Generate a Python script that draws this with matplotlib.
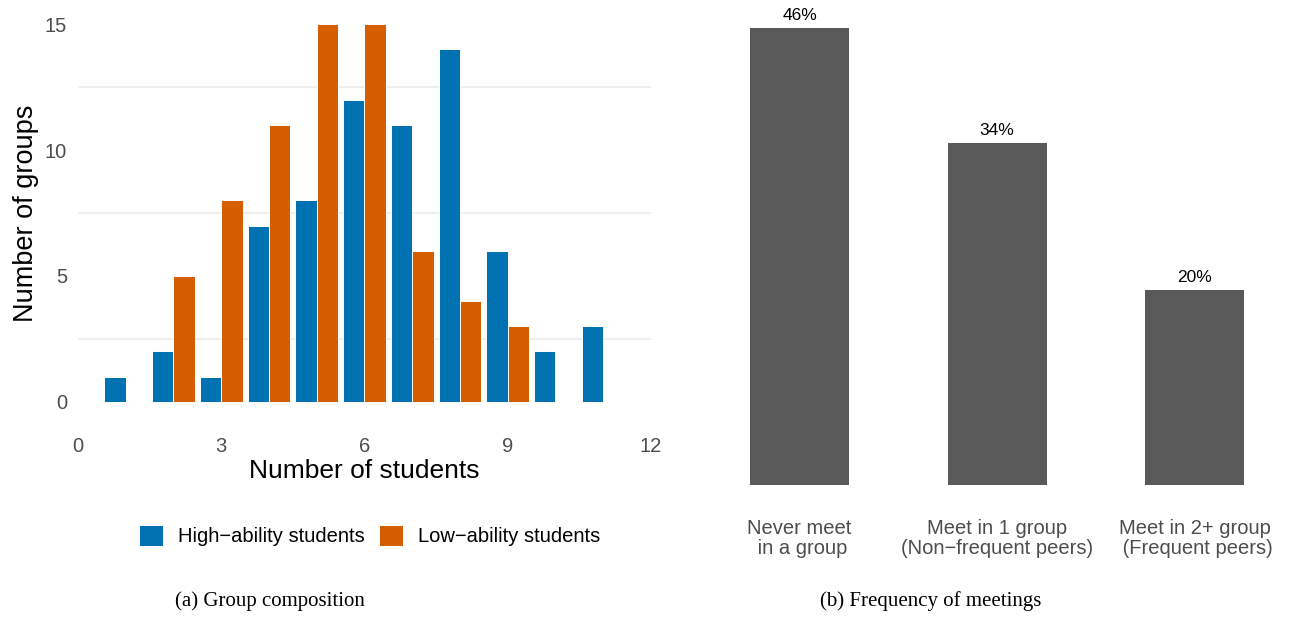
import matplotlib
matplotlib.use("Agg")
import matplotlib.pyplot as plt
from matplotlib.patches import Patch
import numpy as np

# ---- data ----
students = [1, 2, 3, 4, 5, 6, 7, 8, 9, 10, 11]
high_ability = [1, 2, 1, 7, 8, 12, 11, 14, 6, 2, 3]
low_ability = [0, 5, 8, 11, 15, 15, 6, 4, 3, 0, 0]
series_names = ["High\u2212ability students", "Low\u2212ability students"]
series_colors = ["#0072B2", "#D55E00"]
x_ticks = [0, 3, 6, 9, 12]
y_ticks = [0, 5, 10, 15]

meet_categories = ["Never meet\n in a group",
                   "Meet in 1 group\n(Non\u2212frequent peers)",
                   "Meet in 2+ group\n (Frequent peers)"]
meet_share = [46.0, 34.4, 19.6]
meet_labels = ["46%", "34%", "20%"]

captions = ["(a) Group composition", "(b) Frequency of meetings"]

plt.rcParams['font.family'] = ['Liberation Sans', 'DejaVu Sans']

W, H = 1289, 617
fig = plt.figure(figsize=(W / 100, H / 100), dpi=100)

def px_axes(left, top, right, bottom):
    return fig.add_axes([left / W, 1 - bottom / H, (right - left) / W, (bottom - top) / H])

# ---- left panel ----
ax = px_axes(78, 5.4, 651, 420.6)
bw = 0.45
xs = np.array(students, dtype=float)
hi = np.array(high_ability)
lo = np.array(low_ability)
mask_hi = hi > 0
mask_lo = lo > 0
ax.bar(xs[mask_hi] - bw / 2, hi[mask_hi], width=bw, color=series_colors[0],
       edgecolor="white", linewidth=0.7, zorder=3)
ax.bar(xs[mask_lo] + bw / 2, lo[mask_lo], width=bw, color=series_colors[1],
       edgecolor="white", linewidth=0.7, zorder=3)
ax.set_xlim(0, 12)
ax.set_ylim(-0.75, 15.75)
ax.set_xticks(x_ticks)
ax.set_yticks(y_ticks)
for yv in [2.5, 7.5, 12.5]:
    ax.axhline(yv, color="#EDEDED", linewidth=1.3, zorder=1)
for s in ax.spines.values():
    s.set_visible(False)
ax.tick_params(axis="both", length=0, labelsize=14.5, labelcolor="#4D4D4D")
ax.tick_params(axis="x", pad=12)
ax.tick_params(axis="y", pad=8)
ax.set_xlabel("Number of students", fontsize=19, labelpad=2)
ax.set_ylabel("Number of groups", fontsize=19.5, labelpad=4)

handles = [Patch(facecolor=c, edgecolor="none") for c in series_colors]
fig.legend(handles, series_names, loc="center", bbox_to_anchor=(370 / W, 1 - 536 / H),
           ncol=2, frameon=False, fontsize=14.5, handlelength=1.15, handleheight=1.15,
           handletextpad=0.75, columnspacing=0.75)

# ---- right panel ----
ax2 = px_axes(690, 5, 1289, 485)
pos = np.arange(1, len(meet_categories) + 1)
bars = ax2.bar(pos, meet_share, width=0.5, color="#595959", zorder=2)
ax2.set_xlim(0.446, 3.476)
ax2.set_ylim(0, 480 / (457 / 46.0))
for b, lab in zip(bars, meet_labels):
    ax2.annotate(lab, (b.get_x() + b.get_width() / 2, b.get_height()),
                 xytext=(0, 3.5), textcoords="offset points",
                 ha="center", va="bottom", fontsize=12.5, color="black")
ax2.set_xticks(pos)
ax2.set_xticklabels(meet_categories, fontsize=14.5, color="#4D4D4D", linespacing=1.05)
ax2.set_yticks([])
ax2.tick_params(axis="x", length=0, pad=24.5)
for s in ax2.spines.values():
    s.set_visible(False)

# ---- captions ----
fig.text(270 / W, 1 - 601 / H, captions[0], ha="center", va="center",
         fontsize=15, family=["Liberation Serif", "DejaVu Serif"])
fig.text(931 / W, 1 - 601 / H, captions[1], ha="center", va="center",
         fontsize=15, family=["Liberation Serif", "DejaVu Serif"])

fig.savefig("out.png", dpi=100, facecolor="white")
